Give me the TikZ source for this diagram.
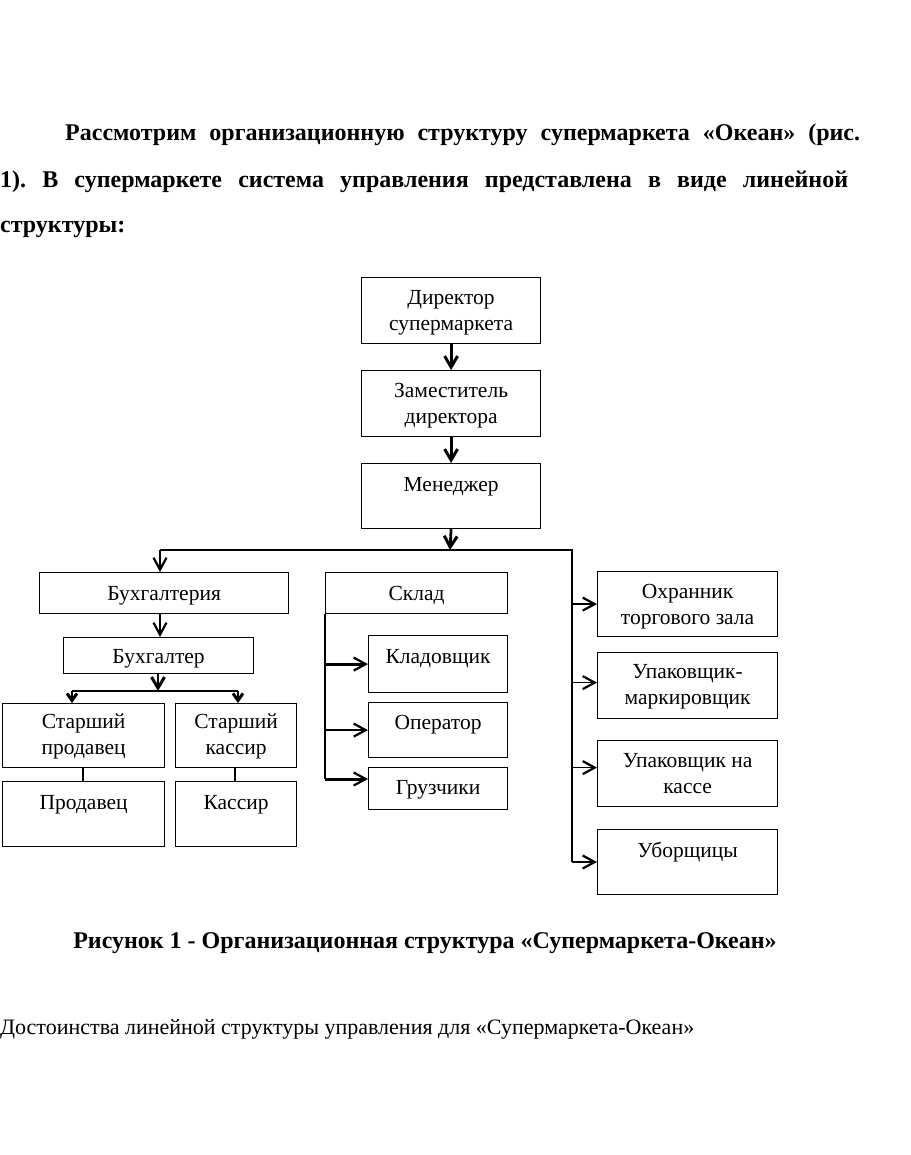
\documentclass[tikz,border=0pt]{standalone}
\usepackage{fontspec}
\setmainfont{Liberation Serif}
\usetikzlibrary{arrows.meta}
\newcommand\mybox[5]{\node[box, minimum width=#4, minimum height=#5, anchor=north west] (#1) at (#2,#3) {};}
\begin{document}
\begin{tikzpicture}[x=1pt,y=-1pt,
  box/.style={draw, line width=1.2pt, inner sep=0pt},
  lbl/.style={font=\fontsize{21.5}{26}\selectfont, align=center, inner sep=0pt, anchor=base},
  conn/.style={line width=1.3pt},
  arrS/.style={line width=1.4pt, -{Straight Barb[length=12pt,width=13pt,line width=2.2pt]}},
  arrB/.style={line width=2.8pt, -{Straight Barb[length=11pt,width=13pt,line width=3pt]}},
  arrY/.style={line width=1.4pt, -{Straight Barb[length=7pt,width=10pt,line width=3pt]}},
  ptext/.style={inner sep=0pt, anchor=base west, font=\fontsize{24}{46}\selectfont\bfseries}
]
\useasboundingbox[fill=white] (0,0) rectangle (910,1155);

% paragraph
\node[ptext] (p1) at (65,141) {\frenchspacing\makebox[795pt][s]{Рассмотрим организационную структуру супермаркета «Океан» (рис.}};
\node[ptext] (p2) at (0,188) {\frenchspacing\makebox[848pt][s]{1). В супермаркете система управления представлена в виде линейной}};
\node[ptext] (p3) at (0,233) {структуры:};

% boxes
\mybox{dir}{361}{277}{179}{66}
\mybox{zam}{361}{370}{179}{66}
\mybox{men}{361}{463}{179}{65}
\mybox{buh}{39}{572}{249}{41}
\mybox{skl}{325}{572}{182}{41}
\mybox{buhr}{63}{637}{190}{36}
\mybox{sprod}{2}{703}{162}{64}
\mybox{skas}{175}{703}{121}{64}
\mybox{prod}{2}{781}{162}{65}
\mybox{kas}{175}{781}{121}{65}
\mybox{klad}{368}{635}{139}{57}
\mybox{oper}{368}{702}{139}{55}
\mybox{gruz}{368}{767}{139}{42}
\mybox{ohr}{597}{571}{180}{65}
\mybox{upm}{597}{652}{180}{66}
\mybox{upk}{597}{740}{180}{66}
\mybox{ubor}{597}{829}{180}{65}

% labels (anchor=base sits on the last line)
\node[lbl] (dirT) at ([yshift=-53pt]dir.north) {Директор\\супермаркета};
\node[lbl] (zamT) at ([yshift=-53pt]zam.north) {Заместитель\\директора};
\node[lbl] (menT) at ([yshift=-28pt]men.north) {Менеджер};
\node[lbl] (buhT) at ([yshift=-28pt]buh.north) {Бухгалтерия};
\node[lbl] (sklT) at ([yshift=-28pt]skl.north) {Склад};
\node[lbl] (buhrT) at ([yshift=-26pt]buhr.north) {Бухгалтер};
\node[lbl] (sprodT) at ([yshift=-51pt]sprod.north) {Старший\\продавец};
\node[lbl] (skasT) at ([yshift=-51pt]skas.north) {Старший\\кассир};
\node[lbl] (prodT) at ([yshift=-28pt]prod.north) {Продавец};
\node[lbl] (kasT) at ([yshift=-28pt]kas.north) {Кассир};
\node[lbl] (kladT) at ([yshift=-28pt]klad.north) {Кладовщик};
\node[lbl] (operT) at ([yshift=-27pt]oper.north) {Оператор};
\node[lbl] (gruzT) at ([yshift=-27pt]gruz.north) {Грузчики};
\node[lbl] (ohrT) at ([yshift=-53pt]ohr.north) {Охранник\\торгового зала};
\node[lbl] (upmT) at ([yshift=-52pt]upm.north) {Упаковщик-\\маркировщик};
\node[lbl] (upkT) at ([yshift=-53pt]upk.north) {Упаковщик на\\кассе};
\node[lbl] (uborT) at ([yshift=-28pt]ubor.north) {Уборщицы};

% main vertical
\draw[arrB] (dir.south) -- (zam.north);
\draw[arrB] (zam.south) -- (men.north);
\coordinate (hub) at (450,550);
\coordinate (hl) at (160,550);
\coordinate (hr) at (572,550);
\coordinate (hre) at (572,862);
\draw[arrB] (men.south) -- (hub);
\draw[conn] (hl) -- (hr) -- (hre);
\draw[arrS] (hl) -- (hl |- buh.north);
% right column
\draw[arrS] (hr |- ohr.west) -- (ohr.west);
\draw[arrS] ([yshift=3pt]hr |- upm.west) -- ([yshift=3pt]upm.west);
\draw[arrS] ([yshift=6pt]hr |- upk.west) -- ([yshift=6pt]upk.west);
\draw[arrS] (hre) -- (hre -| ubor.west);
% sklad
\coordinate (sk1) at (skl.south west);
\coordinate (sk2) at (325,779);
\draw[conn] (sk1) -- (sk2);
\draw[arrS, line width=3pt] (sk1 |- klad.west) -- (klad.west);
\draw[arrS] (sk1 |- oper.west) -- (oper.west);
\draw[arrS, line width=3pt] (sk2) -- (sk2 -| gruz.west);
% buh
\coordinate (bv) at (160,613);
\draw[arrS] (bv) -- (bv |- buhr.north);
\coordinate (bh) at (158,691);
\coordinate (bl) at (72,691);
\coordinate (br) at (238,691);
\draw[arrB, line width=2.4pt] (bh |- buhr.south) -- (bh);
\draw[conn] (bl) -- (br);
\draw[arrY] (bl) -- (bl |- sprod.north);
\draw[arrY] (br) -- (br |- skas.north);
\coordinate (c1) at (83,767);
\coordinate (c3) at (235,767);
\draw[conn] (c1) -- (c1 |- prod.north);
\draw[conn] (c3) -- (c3 |- kas.north);

% caption and closing line
\node[inner sep=0pt, anchor=base] (cap) at (425,948) {\fontsize{24}{28}\selectfont\bfseries Рисунок 1 - Организационная структура «Супермаркета-Океан»};
\node[inner sep=0pt, anchor=base west] (last) at (0,1034) {\fontsize{22}{26}\selectfont Достоинства линейной структуры управления для «Супермаркета-Океан»};
\end{tikzpicture}
\end{document}
